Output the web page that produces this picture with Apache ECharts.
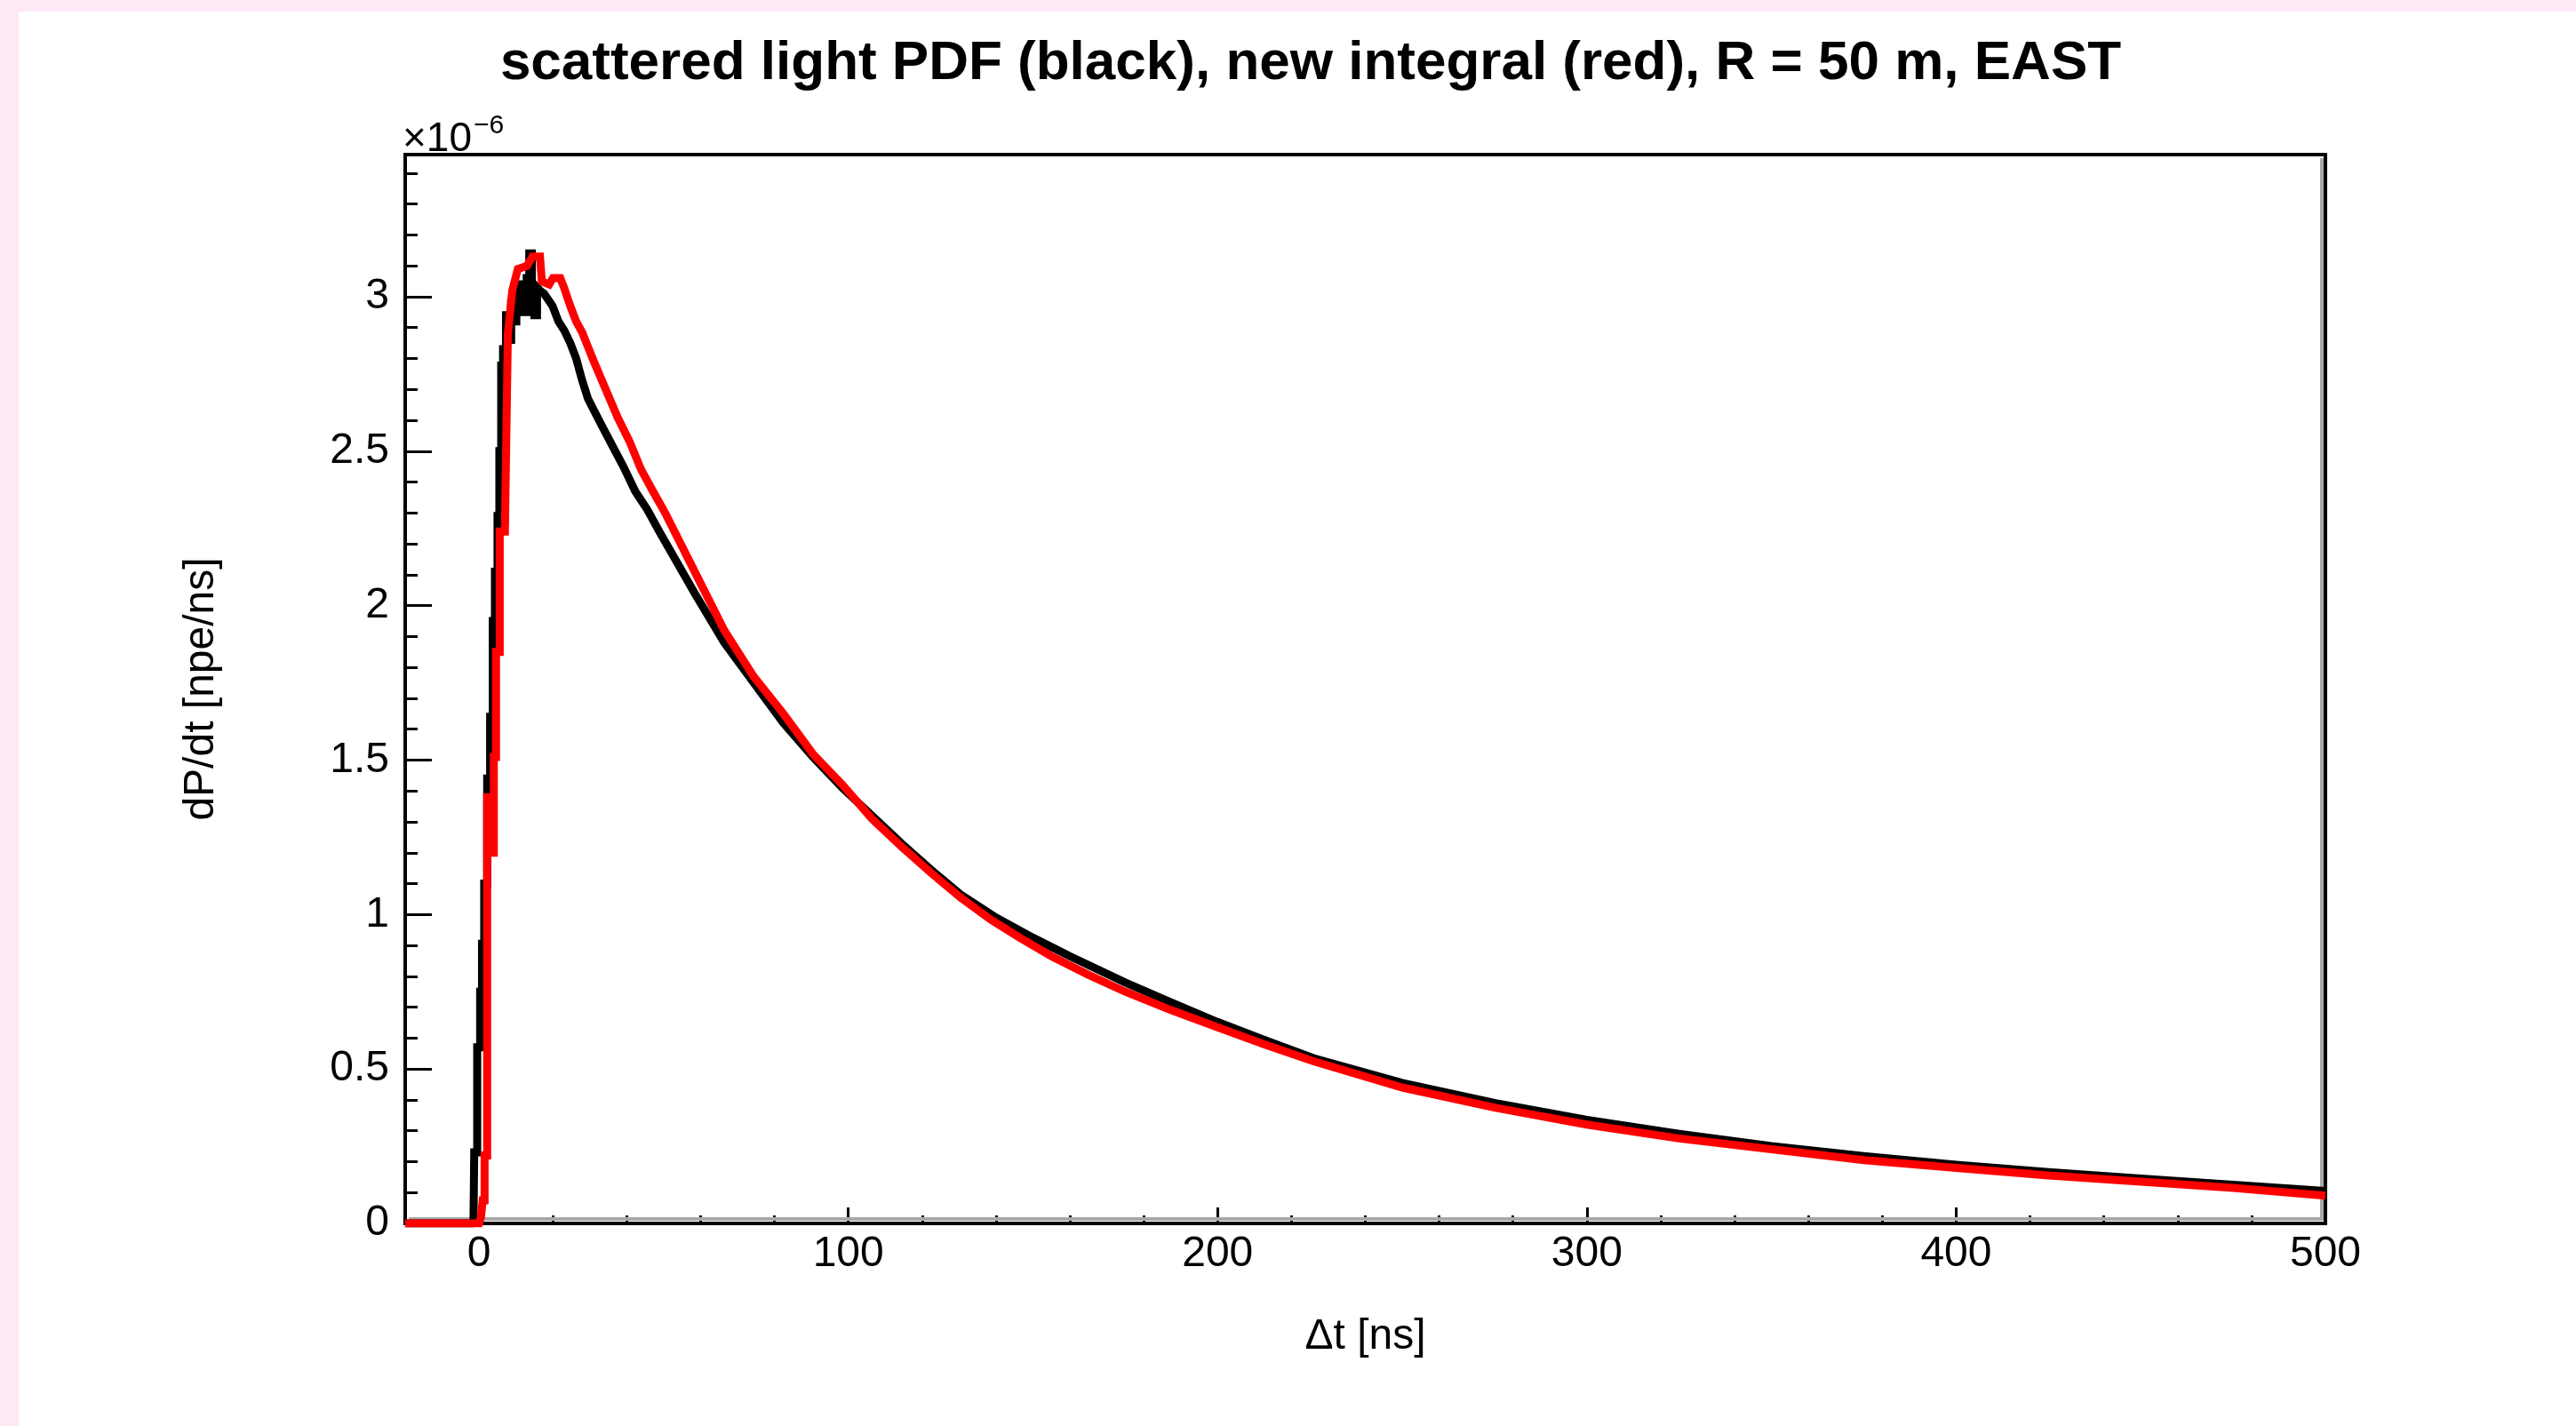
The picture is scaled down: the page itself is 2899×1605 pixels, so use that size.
<!DOCTYPE html>
<html><head><meta charset="utf-8">
<script src="https://cdn.jsdelivr.net/npm/echarts@6/dist/echarts.min.js"></script>
<style>html,body{margin:0;padding:0;background:#fff;overflow:hidden}#c{width:2899px;height:1605px}</style>
</head><body><div id="c"></div>
<script>
// values in units of 1e-6 npe/ns
const xMajorTicks = [0, 100, 200, 300, 400, 500];
const yMajorTicks = [0, 0.5, 1, 1.5, 2, 2.5, 3];
const titleText = 'scattered light PDF (black), new integral (red), R = 50 m, EAST';
const xTitle = '\u0394t [ns]';
const yTitle = 'dP/dt [npe/ns]';

// black: scattered light PDF  [t (ns), dP/dt (1e-6)]
const blackPDF = [
  [-20,0],[-2,0],[-1.5,0.01],[-1.3,0.01],[-1.3,0.23],[-0.5,0.23],[-0.5,0.57],[0.3,0.57],[0.3,0.75],[0.8,0.75],
  [0.8,0.905],[1.4,0.905],[1.4,1.10],[2.2,1.10],[2.2,1.44],[3,1.44],[3,1.64],[3.7,1.64],[3.7,1.95],[4.3,1.95],
  [4.3,2.11],[5,2.11],[5,2.29],[5.5,2.29],[5.5,2.5],[6.0,2.5],[6.0,2.79],[6.5,2.6],[6.5,2.83],[7.3,2.83],
  [7.3,2.94],[8.0,2.94],[8.0,2.86],[8.7,2.86],[8.7,2.98],[9.4,2.98],[9.4,2.92],[10.1,2.92],[10.1,3.03],[10.8,3.03],
  [10.8,2.96],[11.5,2.96],[11.5,3.04],[12.2,3.04],[12.2,2.95],[12.9,2.95],[12.9,3.06],[13.6,3.06],[13.6,3.14],[14.3,3.14],
  [14.3,3.0],[15.0,3.0],[15.0,2.94],[15.7,2.94],[15.7,3.03],[16.5,3.02],[17.6,3.01],[19.9,2.97],[21.5,2.92],[23.1,2.89],
  [24.7,2.85],[26.3,2.80],[27.9,2.73],[29.5,2.67],[32.7,2.595],[36,2.52],[39.1,2.45],[42.3,2.37],[45.6,2.31],[48.8,2.24],
  [58.4,2.04],[66.4,1.88],[74.4,1.75],[82.4,1.62],[90.4,1.51],[98.4,1.41],[106.4,1.32],[114.4,1.23],[122.4,1.145],[130.4,1.065],
  [140,0.99],[150,0.925],[160,0.865],[175,0.78],[187.5,0.715],[200,0.652],[212.5,0.595],[226,0.535],[250,0.455],[275,0.39],
  [300,0.335],[325,0.29],[350,0.25],[375,0.218],[400,0.19],[425,0.166],[450,0.145],[475,0.125],[500,0.105]
];

// red: new integral  [t (ns), dP/dt (1e-6)]
const redIntegral = [
  [-20,0],[0,0],[0.5,0.02],[1,0.075],[1.5,0.075],[1.5,0.22],[2.2,0.22],[2.2,1.38],[3,1.38],[3,1.2],
  [4,1.2],[4,1.51],[4.6,1.51],[4.6,1.85],[5.6,1.85],[5.6,2.24],[7,2.24],[7.8,2.88],[9,3.02],[10.5,3.09],
  [13,3.10],[14.5,3.13],[16.5,3.13],[17,3.05],[19,3.04],[20,3.06],[22,3.06],[23,3.03],[24.7,2.97],[26.3,2.92],
  [27.9,2.885],[31.1,2.79],[34.3,2.70],[37.5,2.61],[40.8,2.53],[43.9,2.44],[47.1,2.37],[50.4,2.30],[58.4,2.11],[66.4,1.92],
  [74.4,1.77],[82.4,1.65],[90.4,1.52],[98.4,1.42],[106.4,1.31],[114.4,1.22],[122.4,1.135],[130.4,1.055],[138.4,0.985],[146.4,0.925],
  [155,0.865],[165,0.805],[175,0.75],[187.5,0.69],[200,0.635],[212.5,0.58],[226,0.525],[250,0.44],[275,0.375],[300,0.32],
  [325,0.275],[350,0.24],[375,0.205],[400,0.18],[425,0.155],[450,0.135],[475,0.115],[500,0.09]
];

const FONT = '"Liberation Sans", Arial, Helvetica, sans-serif';
const GL = 456, GT = 174, GW = 2161, GH = 1203;

const chart = echarts.init(document.getElementById('c'), null, {renderer: 'canvas'});
chart.setOption({
  animation: false,
  backgroundColor: '#ffe8f5',
  graphic: [
    {type: 'rect', z: -10, shape: {x: 21, y: 13, width: 2899 - 21, height: 1605 - 13}, style: {fill: '#ffffff'}},
    {type: 'rect', z: 1, shape: {x: 2611, y: 178, width: 4, height: 1196}, style: {fill: '#a8a8a8'}},
    {type: 'rect', z: 1, shape: {x: 460, y: 1370, width: 2155, height: 4}, style: {fill: '#a8a8a8'}},
    {type: 'text', z: 5, x: 1475, y: 72, style: {text: titleText, font: 'bold 62px ' + FONT, fill: '#000', textAlign: 'center', textVerticalAlign: 'middle'}},
    {type: 'text', z: 5, x: 453, y: 180, style: {text: '\u00d710', font: '46px ' + FONT, fill: '#000', textAlign: 'left', textVerticalAlign: 'bottom'}},
    {type: 'text', z: 5, x: 533, y: 127, style: {text: '\u22126', font: '30px ' + FONT, fill: '#000', textAlign: 'left', textVerticalAlign: 'top'}}
  ],
  grid: {left: GL, top: GT, width: GW, height: GH, show: true, backgroundColor: '#fff', borderColor: '#000', borderWidth: 4, containLabel: false},
  xAxis: [
    {type: 'value', min: -20, max: 500, interval: 20, position: 'bottom',
     axisLine: {show: true, onZero: false, lineStyle: {color: '#000', width: 4}},
     axisTick: {show: true, inside: true, length: 9, lineStyle: {color: '#000', width: 3}},
     axisLabel: {show: false}, splitLine: {show: false}},
    {type: 'value', min: -20, max: 500, position: 'bottom',
     axisLine: {show: false, onZero: false},
     axisTick: {show: true, inside: true, length: 18, customValues: xMajorTicks, lineStyle: {color: '#000', width: 3}},
     axisLabel: {show: true, customValues: xMajorTicks, margin: 11, color: '#000', fontSize: 48, fontFamily: FONT},
     splitLine: {show: false},
     name: xTitle, nameLocation: 'middle', nameGap: 104,
     nameTextStyle: {color: '#000', fontSize: 48, fontFamily: FONT}}
  ],
  yAxis: [
    {type: 'value', min: 0, max: 3.46, interval: 0.1, position: 'left',
     axisLine: {show: true, onZero: false, lineStyle: {color: '#000', width: 4}},
     axisTick: {show: true, inside: true, length: 14, lineStyle: {color: '#000', width: 3}},
     axisLabel: {show: false}, splitLine: {show: false}},
    {type: 'value', min: 0, max: 3.46, position: 'left',
     axisLine: {show: false, onZero: false},
     axisTick: {show: true, inside: true, length: 30, customValues: yMajorTicks, lineStyle: {color: '#000', width: 3}},
     axisLabel: {show: true, customValues: yMajorTicks, margin: 18, color: '#000', fontSize: 48, fontFamily: FONT,
       formatter: v => String(v)},
     splitLine: {show: false},
     name: yTitle, nameLocation: 'middle', nameGap: 205, nameRotate: 90,
     nameTextStyle: {color: '#000', fontSize: 48, fontFamily: FONT}}
  ],
  series: [
    {type: 'line', name: 'black', data: blackPDF, xAxisIndex: 0, yAxisIndex: 0, showSymbol: false, symbol: 'none',
     lineStyle: {color: '#000000', width: 9, join: 'miter', cap: 'butt'}, z: 3, silent: true},
    {type: 'line', name: 'red', data: redIntegral, xAxisIndex: 0, yAxisIndex: 0, showSymbol: false, symbol: 'none',
     lineStyle: {color: '#ff0000', width: 9, join: 'miter', cap: 'butt'}, z: 4, silent: true}
  ]
});
</script></body></html>
